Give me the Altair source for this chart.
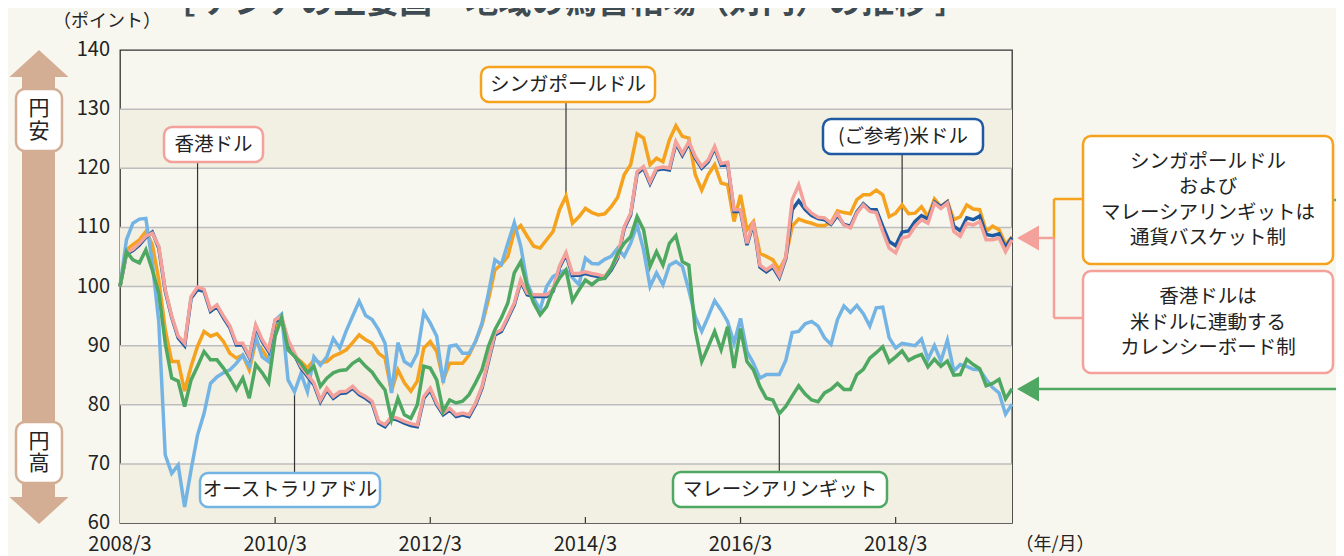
import altair as alt
import pandas as pd

# ---------------- data ----------------
X_TICK_POS = [0, 24, 48, 72, 96, 120]
X_TICK_LABELS = ["2008/3", "2010/3", "2012/3", "2014/3", "2016/3", "2018/3"]
Y_TICKS = [60, 70, 80, 90, 100, 110, 120, 130, 140]
GRID_VALUES = [70, 80, 90, 100, 110, 120, 130]
BAND_LO = [60, 80, 100, 120]
BAND_HI = [70, 90, 110, 130]

AUD = [100, 107.9, 110.7, 111.4, 111.5, 104, 94, 71.5, 68.4, 69.8, 62.7, 69, 74.9, 78.5, 83.6, 84.7, 85.4, 85.9, 87, 88.4,
       86.5, 91.5, 88.1, 87.3, 94.3, 95.3, 84.2, 82.2, 85.3, 82.2, 88.1, 86.7, 88.1, 91.2, 89.6,
       92.5, 95, 97.5, 95.1, 94.4, 92.7, 90.4, 82, 90.5, 87.3, 86.6, 88.7, 95.6, 93.8, 91.6, 83.7, 89.9, 90.1, 88.7, 88.7,
       90.7, 93.8, 98.9, 104.5, 103.7, 107.3, 110.8, 106.8, 100.6, 98, 96.1, 100, 101.7, 102.3, 102.8,
       101.5, 100.3, 104.8, 103.9, 103.8, 104.6, 105.1, 106.5, 105.1, 107.3, 110.4, 106.2, 100, 102.3, 100.3, 103.6, 104.2,
       103.4, 99.4, 94.9, 92.4, 94.9, 97.6, 96, 94.1, 90.4, 94.6, 89, 87, 84.5, 85.1, 85.1, 85.1, 87.5,
       92.2, 92.4, 93.7, 94.1, 93.3, 91.3, 90.2, 94.4, 96.7, 95.6, 96.8, 95.4, 93.3, 96.4, 96.5, 91.3, 89.6, 90.4, 90.2, 90,
       91.1, 87.7, 90, 87.4, 90.9, 85.7, 86.8, 86.5, 86, 85.9, 84.3, 82.9, 82, 78.4, 80.1]

SGD = [100, 106.2, 107.1, 107.9, 109.3, 107.1, 101.1, 92.7, 87.3, 87.3, 82.3, 86.5, 89.9, 92.4, 91.6, 92, 90.7, 88.7, 87.9, 88.4,
       85.9, 90.7, 89.3, 87.6, 92.7, 94.7, 89.9, 88.2, 87.3, 86.2, 87.6, 87.1, 87.3, 88.2, 88.7,
       89.3, 90.5, 91.8, 91, 90.4, 88.7, 87.9, 82.3, 85.9, 83.7, 82.3, 84, 89.6, 90.7, 89, 84.2, 87, 87, 87, 88.4,
       90.7, 93.5, 97.8, 102.8, 103.7, 105.1, 109.3, 110.3, 108.5, 106.8, 106.5, 107.9, 109.3, 113, 115.3,
       110.7, 111.8, 113.2, 112.5, 112.1, 112.3, 113.5, 115.1, 118.9, 120.6, 125.8, 125.1, 120.6, 121.7, 121.1, 124.8, 127.2,
       125.4, 125.1, 118.9, 116.3, 118.9, 120.6, 117.5, 117.2, 111, 115.5, 109.6, 111, 105.6, 105.1, 104.5, 102.8, 105,
       110.2, 111.4, 111, 110.7, 110.3, 110.3, 110.8, 112.8, 112.5, 112.3, 114.7, 115.5, 115.5, 116.3, 115.5, 111.8, 112.4,
       113.8, 112.3, 112.4, 113.5, 111.8, 114.8, 113.5, 114.4, 111.3, 111.8, 113.8, 113.1, 113, 109.3, 110.2, 109.6, 107.1, 108.4]

HKD = [100, 105.7, 106.3, 107.3, 108.5, 109, 106.8, 99.5, 95, 91.6, 90.4, 98.3, 99.9, 99.5, 96.1, 96.9, 95, 93.3, 90.4, 90.4,
       88.2, 93.5, 91, 89.3, 94.4, 94.9, 91, 88.7, 86.5, 85.1, 83.7, 80.8, 82.8, 81.4, 82.2,
       82.3, 83.1, 82, 81.4, 80.6, 77.2, 76.6, 78, 77.7, 77.2, 76.8, 76.6, 81.4, 82.8, 80.3, 78.6, 79.4, 78.3, 78.6, 78.3,
       80.3, 83.1, 87.6, 92.1, 92.7, 94.9, 97.2, 101.1, 98.9, 98.6, 98.6, 98.6, 99.5, 103.5, 105.7,
       102.2, 102.2, 102.5, 102.2, 102, 101.7, 103.1, 105.1, 110.1, 112.4, 119.4, 120.3, 117.7, 120, 120.2, 120, 124.5,
       122.5, 124.5, 122, 120.3, 121.4, 123.7, 120.8, 121, 113, 113, 107.3, 111, 103.6, 102.8, 103.6, 101.8, 105,
       114.7, 117.2, 113.5, 112.4, 111.7, 111.6, 110.7, 112.4, 110.4, 109.9, 112.4, 113.8, 112.7, 112.5, 109.3, 106.5, 105.7,
       108.2, 108.5, 110.2, 111.3, 110.7, 114.1, 113.2, 114.1, 109.3, 108.5, 110.7, 110.4, 111, 107.9, 107.9, 108.2, 105.9, 107.9]

USD = [100, 105.5, 106.1, 107.0, 108.3, 109.2, 106.5, 99.2, 94.8, 91.3, 90.0, 98.0, 99.5, 99.2, 95.8, 96.6, 94.7, 93.0, 90.1, 90.1,
       88.0, 93.2, 90.7, 89.0, 94.1, 94.6, 90.7, 88.4, 86.2, 84.8, 83.4, 80.5, 82.5, 81.1, 81.9,
       82.0, 82.8, 81.7, 81.1, 80.3, 76.9, 76.3, 77.7, 77.4, 76.9, 76.5, 76.3, 81.1, 82.5, 80.0, 78.3, 79.1, 78.0, 78.3, 78.0,
       80.0, 82.8, 87.3, 91.8, 92.4, 94.6, 96.9, 100.8, 98.6, 98.3, 98.3, 98.3, 99.2, 103.2, 105.4,
       101.9, 101.9, 102.2, 101.9, 101.7, 101.4, 102.8, 104.8, 109.8, 112.1, 119.1, 120.0, 117.4, 119.7, 119.9, 119.7, 124.2,
       122.2, 124.2, 121.7, 120.0, 121.1, 123.4, 120.5, 120.7, 112.7, 112.7, 107.0, 110.7, 103.3, 102.5, 103.3, 101.5, 104.7,
       113.0, 114.5, 113.0, 112.0, 111.5, 111.3, 110.5, 112.0, 110.5, 110.2, 112.6, 114.0, 113.0, 113.0, 110.2, 107.6, 106.9,
       109.2, 109.4, 111.0, 112.0, 111.4, 114.3, 113.5, 114.3, 110.2, 109.4, 111.6, 111.3, 111.9, 108.8, 108.6, 108.9, 106.6, 108.3]

MYR = [100, 105.9, 104.5, 104, 106.2, 102.8, 98.9, 90.4, 84.5, 84, 79.7, 84.2, 86.5, 89, 87.6, 87.6, 86.2, 84.5, 82.6, 84.5,
       81.1, 86.8, 85.4, 83.7, 91.6, 94.7, 89.3, 88.2, 87, 85.4, 86.5, 83.1, 84.5, 85.4, 85.8,
       85.9, 87, 87.7, 86.5, 85.5, 83.9, 82.5, 77.5, 81.1, 78.3, 77.7, 80, 86.5, 86.2, 84.2, 78.9, 80.8, 80.3, 80.6, 81.7,
       83.7, 85.9, 89.9, 92.7, 94.7, 97.2, 102.3, 104.2, 100, 97.2, 95.2, 96.6, 99.5, 101.4, 102.8,
       97.6, 99.4, 101.1, 100.3, 101.2, 101.4, 103.1, 105.6, 107.3, 108.4, 111.8, 109.6, 103.4, 105.9, 103.6, 107.3, 108.6,
       104.2, 103.6, 92.6, 87.3, 89.8, 92.4, 89.3, 93.2, 86.2, 92.9, 87.3, 85.9, 83.1, 81.1, 80.8, 78.5, 79.7,
       81.5, 83.2, 81.8, 80.8, 80.5, 82, 82.6, 83.6, 82.6, 82.6, 85.1, 86, 87.9, 88.8, 89.8, 87.2, 88.1,
       89.1, 87.5, 88.1, 88.5, 86.4, 87.7, 86.5, 87.4, 85, 85.1, 87.7, 86.8, 86.1, 83.2, 83.6, 84.3, 81, 82.7]

MONTH_INDEX = list(range(len(AUD)))

# ---------------- styling ----------------
FONT = "Noto Sans CJK JP"
W, H = 892, 473
C_AUD = "#74b4e4"
C_SGD = "#f5a21f"
C_HKD = "#f4a19c"
C_USD = "#1f5aa0"
C_MYR = "#4ea862"
C_TAN = "#d4ae94"
TXT = "#222222"

xs = alt.Scale(domain=[0, 138], nice=False, zero=False)
ys = alt.Scale(domain=[60, 140], nice=False, zero=False)
one = pd.DataFrame({"d": [0]})

layers = []

# bands
layers.append(
    alt.Chart(pd.DataFrame({"lo": BAND_LO, "hi": BAND_HI})).mark_rect(color="#f2efe3").encode(
        x=alt.value(0), x2=alt.value(W),
        y=alt.Y("lo:Q", scale=ys, axis=None), y2="hi:Q")
)
# grid lines
layers.append(
    alt.Chart(pd.DataFrame({"g": GRID_VALUES})).mark_rule(color="#bdbdbd", strokeWidth=1.5).encode(
        y=alt.Y("g:Q", scale=ys, axis=None), x=alt.value(0), x2=alt.value(W))
)

# tick labels (drawn through the scales)
layers.append(
    alt.Chart(pd.DataFrame({"v": Y_TICKS})).mark_text(
        font=FONT, fontSize=20, color=TXT, align="right", baseline="middle").encode(
        y=alt.Y("v:Q", scale=ys, axis=None), x=alt.value(-10), text="v:Q")
)
layers.append(
    alt.Chart(pd.DataFrame({"p": X_TICK_POS, "lab": X_TICK_LABELS})).mark_text(
        font=FONT, fontSize=20, color=TXT, align="center", baseline="middle").encode(
        x=alt.X("p:Q", scale=xs, axis=None), y=alt.value(H + 22), text="lab:N")
)

# connectors from labels to lines
def connector(i, v, yend):
    return alt.Chart(pd.DataFrame({"i": [i], "v": [v]})).mark_rule(color="#333333", strokeWidth=1.2).encode(
        x=alt.X("i:Q", scale=xs, axis=None), y=alt.Y("v:Q", scale=ys, axis=None), y2=alt.value(yend))

layers += [
    connector(12, HKD[12], 112),
    connector(69, SGD[69], 52),
    connector(121, USD[121], 104),
    connector(27, AUD[27], 423),
    connector(102, MYR[102], 422),
]

def series(vals, color, width):
    df = pd.DataFrame({"i": MONTH_INDEX, "v": vals})
    return alt.Chart(df).mark_line(color=color, strokeWidth=width, strokeJoin="miter").encode(
        x=alt.X("i:Q", scale=xs, axis=None), y=alt.Y("v:Q", scale=ys, axis=None))

layers += [
    series(SGD, C_SGD, 3.5),
    series(AUD, C_AUD, 3.5),
    series(USD, C_USD, 3.5),
    series(HKD, C_HKD, 3.5),
    series(MYR, C_MYR, 3.5),
]

# inner x ticks
layers.append(
    alt.Chart(pd.DataFrame({"t": X_TICK_POS[1:]})).mark_rule(color="#333333", strokeWidth=1.2).encode(
        x=alt.X("t:Q", scale=xs, axis=None), y=alt.value(H), y2=alt.value(H - 6))
)

def box(x1, y1, x2, y2, stroke, sw=2.5, r=8):
    return alt.Chart(one).mark_rect(fill="white", stroke=stroke, strokeWidth=sw, cornerRadius=r).encode(
        x=alt.value(x1), x2=alt.value(x2), y=alt.value(y1), y2=alt.value(y2))

def text(s, x, y, size=19.5, color=TXT, baseline="middle", **kw):
    return alt.Chart(one).mark_text(text=s, font=FONT, fontSize=size, color=color,
                                    align="center", baseline=baseline, **kw).encode(
        x=alt.value(x), y=alt.value(y))

def hline(x1, x2, y, color, sw=2.5):
    return alt.Chart(one).mark_rule(color=color, strokeWidth=sw).encode(
        x=alt.value(x1), x2=alt.value(x2), y=alt.value(y))

def vline(x, y1, y2, color, sw=2.5):
    return alt.Chart(one).mark_rule(color=color, strokeWidth=sw).encode(
        x=alt.value(x), y=alt.value(y1), y2=alt.value(y2))

def tri(x, y, shape, size, color):
    return alt.Chart(one).mark_point(shape=shape, size=size, filled=True, color=color,
                                     opacity=1, strokeWidth=0).encode(x=alt.value(x), y=alt.value(y))

# series labels
layers += [
    box(44, 77, 143, 112, C_HKD), text("香港ドル", 93.5, 94.5),
    box(361, 17, 535, 52, C_SGD), text("シンガポールドル", 448, 34.5),
    box(703, 69, 863, 104, C_USD), text("(ご参考)米ドル", 783, 86.5),
    box(80, 423, 260, 457, C_AUD), text("オーストラリアドル", 170, 440),
    box(553, 422, 767, 457, C_MYR), text("マレーシアリンギット", 660, 439.5),
]

# left yen arrow
LEFT_TRI_UP = "M0,-0.46L1,0.46L-1,0.46Z"
LEFT_TRI_DOWN = "M0,0.46L1,-0.46L-1,-0.46Z"
layers += [
    alt.Chart(one).mark_rect(color=C_TAN).encode(
        x=alt.value(-98), x2=alt.value(-65), y=alt.value(26), y2=alt.value(448)),
    tri(-81, 13.5, LEFT_TRI_UP, 59 * 59, C_TAN),
    tri(-81, 460.5, LEFT_TRI_DOWN, 59 * 59, C_TAN),
    box(-104, 39, -58, 101, C_TAN, 2.5, 9), text(["円", "安"], -81, 59, size=21, lineHeight=23),
    box(-104, 372, -58, 433, C_TAN, 2.5, 9), text(["円", "高"], -81, 392, size=21, lineHeight=22),
]

# right-side notes
ARROW_LEFT = "M-1,0L1,-1.14L1,1.14Z"
layers += [
    hline(934, 963, 149, C_SGD),
    vline(934, 149, 188, C_SGD),
    vline(934, 188, 268, C_HKD),
    hline(934, 963, 268, C_HKD),
    hline(916, 934, 188, C_HKD),
    tri(908, 188, ARROW_LEFT, 22 * 22, C_HKD),
    hline(1213, 1230, 150, C_MYR),
    hline(916, 1230, 339, C_MYR),
    tri(908, 339, ARROW_LEFT, 22 * 22, C_MYR),
    box(963, 86, 1213, 214, C_SGD),
    text(["シンガポールドル", "および", "マレーシアリンギットは", "通貨バスケット制"], 1088, 112, lineHeight=25.4),
    box(963, 221, 1213, 323, C_HKD),
    text(["香港ドルは", "米ドルに連動する", "カレンシーボード制"], 1088, 247, lineHeight=25.5),
]

# titles
layers += [
    text("［ アジアの主要国・地域の為替相場（対円）の推移 ］", 445, -37, size=33, color="#3f4b53",
         baseline="alphabetic", fontWeight="bold"),
    text("（ポイント）", -13, -28, size=18),
    text("（年/月）", 935, 495, size=18),
]

chart = alt.layer(*layers).properties(
    width=W, height=H,
    padding={"left": 112, "top": 42, "right": 324, "bottom": 40},
    autosize=alt.AutoSizeParams(type="none"),
    background="#f8f7ef",
).configure_view(stroke="#333333", strokeWidth=1.3)

chart.save("out.html", embed_options={"renderer": "svg", "actions": False})
